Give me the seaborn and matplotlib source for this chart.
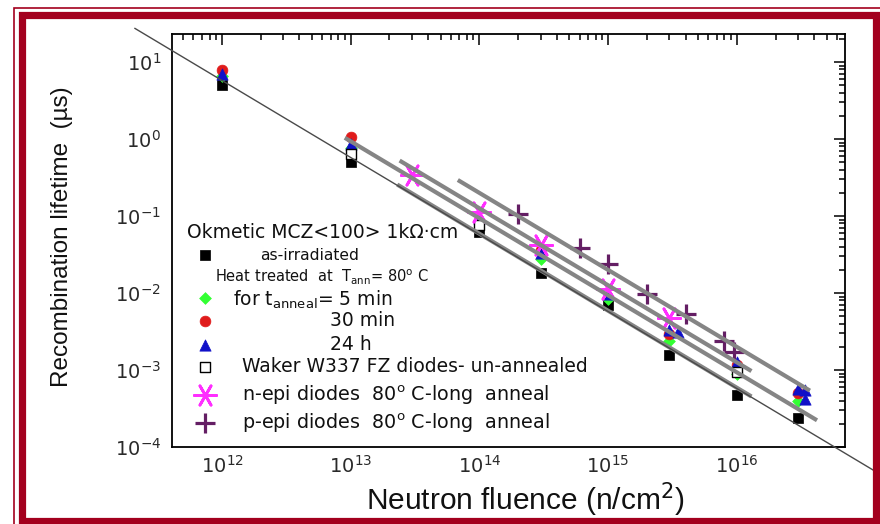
import numpy as np
import matplotlib
matplotlib.use("Agg")
import matplotlib.pyplot as plt
import seaborn as sns
from matplotlib.patches import Rectangle
from matplotlib.markers import MarkerStyle
from matplotlib.ticker import LogLocator, LogFormatterSciNotation, NullFormatter

# ---- data: neutron fluence (n/cm^2) and recombination lifetime (µs) ----
as_irr_fluence = [1e12, 1e13, 1e14, 3e14, 1e15, 3e15, 1e16, 3e16]
as_irr_tau = [5.0, 0.50, 0.062, 0.018, 0.0070, 0.00155, 4.7e-4, 2.35e-4]

min5_fluence = [1e12, 1e13, 3e14, 1e15, 3e15, 1e16, 3e16]
min5_tau = [6.5, 0.77, 0.028, 0.0084, 0.0024, 9.0e-4, 3.9e-4]

min30_fluence = [1e12, 1e13, 3e14, 3e15, 1e16, 3e16]
min30_tau = [7.8, 1.05, 0.036, 0.0029, 0.00117, 5.0e-4]

h24_fluence = [1e12, 1e13, 1e14, 3e14, 1e15, 3e15, 3.5e15, 1e16, 3e16, 3.4e16, 3.4e16]
h24_tau = [7.0, 0.86, 0.093, 0.033, 0.0098, 0.0033, 0.0031, 0.00128, 5.6e-4, 5.5e-4, 4.2e-4]

waker_fluence = [1e13, 1e14, 1e16]
waker_tau = [0.63, 0.076, 9.3e-4]

nepi_fluence = [3e13, 1e14, 3e14, 1e15, 3e15]
nepi_tau = [0.34, 0.112, 0.042, 0.0112, 0.0048]

pepi_fluence = [2e14, 6e14, 1e15, 2e15, 4e15, 8e15, 9.5e15]
pepi_tau = [0.107, 0.038, 0.0238, 0.0098, 0.0053, 0.0024, 0.0017]

# tau = 10**C / fluence fits (log10 C, fluence range)
fit_logc = [12.77, 12.97, 13.10, 13.30]
fit_lo = [2.3e13, 9.0e12, 2.4e13, 6.8e13]
fit_hi = [1.3e16, 4.2e16, 1.3e16, 3.7e16]

# reference 1/fluence line running across the whole frame
ref_logc = 12.76
ref_lo, ref_hi = 2.1e11, 1.2e17

x_ticks = [1e12, 1e13, 1e14, 1e15, 1e16]
y_ticks = [1e-4, 1e-3, 1e-2, 1e-1, 1e0, 1e1]

# ---- style ----
sns.set_style("white")
plt.rcParams["font.family"] = ["DejaVu Sans"]
plt.rcParams["mathtext.fontset"] = "dejavusans"

W, H = 880, 524
fig = plt.figure(figsize=(W / 100, H / 100), dpi=100)
fig.patch.set_facecolor("white")

L, R, T, B = 172, 845, 34, 447
ax = fig.add_axes([L / W, 1 - B / H, (R - L) / W, (B - T) / H])
ax.set_facecolor("white")
ax.set_xscale("log")
ax.set_yscale("log")
ax.set_xlim(4.09e11, 6.93e16)
ax.set_ylim(1e-4, 23.1)

# ---- markers ----
series = [
    (as_irr_fluence, as_irr_tau, dict(marker="s", s=55, color="black", edgecolor="black", linewidth=0.5)),
    (min5_fluence, min5_tau, dict(marker="D", s=36, color="#33FF33", edgecolor="#33FF33", linewidth=0.5)),
    (min30_fluence, min30_tau, dict(marker="o", s=60, color="#E01B1B", edgecolor="#E01B1B", linewidth=0.5)),
    (h24_fluence, h24_tau, dict(marker="^", s=66, color="#1010C8", edgecolor="#1010C8", linewidth=0.5)),
    (waker_fluence, waker_tau, dict(marker="s", s=44, color="white", edgecolor="black", linewidth=1.0)),
    (nepi_fluence, nepi_tau, dict(marker=MarkerStyle((6, 2, 90)), s=256, color="#FF2EFF", linewidth=2.0)),
    (pepi_fluence, pepi_tau, dict(marker="+", s=210, color="#641E64", linewidth=2.3)),
]
for xs, ys, kw in series:
    sns.scatterplot(x=xs, y=ys, ax=ax, zorder=3, legend=False, **kw)

# ---- fitted lines ----
for c, lo, hi in zip(fit_logc, fit_lo, fit_hi):
    xs = np.array([lo, hi])
    sns.lineplot(x=xs, y=10 ** c / xs, ax=ax, color="#858585", linewidth=3.0,
                 zorder=4, solid_capstyle="butt", estimator=None, sort=False)

xs = np.array([ref_lo, ref_hi])
ax.plot(xs, 10 ** ref_logc / xs, color="#4a4a4a", linewidth=1.0, zorder=5, clip_on=False)

# ---- axes, ticks ----
for sp in ax.spines.values():
    sp.set_color("black")
    sp.set_linewidth(1.3)
ax.xaxis.set_minor_locator(LogLocator(base=10, subs=np.arange(2, 10), numticks=20))
ax.yaxis.set_minor_locator(LogLocator(base=10, subs=np.arange(2, 10), numticks=20))
ax.set_xticks(x_ticks)
ax.set_yticks(y_ticks)
ax.xaxis.set_major_formatter(LogFormatterSciNotation())
ax.yaxis.set_major_formatter(LogFormatterSciNotation())
ax.xaxis.set_minor_formatter(NullFormatter())
ax.yaxis.set_minor_formatter(NullFormatter())
ax.tick_params(which="both", direction="in", top=True, right=True, color="black", width=1.1)
ax.tick_params(which="major", length=8, labelsize=14, labelcolor="#2a2a2a", pad=8)
ax.tick_params(axis="x", which="major", pad=6)
ax.tick_params(which="minor", length=4)

ax.set_xlabel("Neutron fluence (n/cm$^2$)", fontsize=21.5, family=["Liberation Sans", "DejaVu Sans"],
              color="#111111")
ax.xaxis.set_label_coords(0.5245, -0.128)
ax.xaxis.label.set_verticalalignment("center")
ax.set_ylabel("Recombination lifetime  (µs)", fontsize=17.5,
              family=["Liberation Sans", "DejaVu Sans"], color="#111111")
ax.yaxis.set_label_coords(-0.163, 0.51)
ax.yaxis.label.set_verticalalignment("center")

# ---- legend block ----
def px_x(px):
    return (px - L) / (R - L)

def px_y(py):
    return (B - py) / (B - T)

key_x = px_x(205)
txt = dict(transform=ax.transAxes, va="center", ha="left", color="#111111", zorder=6)
ax.text(px_x(187), px_y(232), "Okmetic MCZ<100> 1kΩ·cm", fontsize=13.5, **txt)
ax.text(px_x(260), px_y(255), "as-irradiated", fontsize=11.2, **txt)
ax.text(px_x(215), px_y(277), r"Heat treated  at  T$_{\rm ann}$= 80$^{\rm o}$ C", fontsize=10.5, **txt)
ax.text(px_x(233), px_y(300), r"for t$_{\rm anneal}$= 5 min", fontsize=13.5, **txt)
ax.text(px_x(330), px_y(321), "30 min", fontsize=13.5, **txt)
ax.text(px_x(330), px_y(345), "24 h", fontsize=13.5, **txt)
ax.text(px_x(242), px_y(367), "Waker W337 FZ diodes- un-annealed", fontsize=13.5, **txt)
ax.text(px_x(242), px_y(395), r"n-epi diodes  80$^{\rm o}$ C-long  anneal", fontsize=13.8, **txt)
ax.text(px_x(242), px_y(423), r"p-epi diodes  80$^{\rm o}$ C-long  anneal", fontsize=13.8, **txt)

key_rows = [255, 298, 321, 345, 367, 395, 423]
for row, (_, _, kw) in zip(key_rows, series):
    ax.scatter([key_x], [px_y(row)], transform=ax.transAxes, clip_on=False, zorder=6, **kw)

# ---- frame ----
fig.patches.append(Rectangle((13.5 / W, 1 - 531 / H), (886 - 13.5) / W, (531 - 7.5) / H,
                             transform=fig.transFigure, fill=False, edgecolor="#A3001E",
                             linewidth=1.2, zorder=10))
fig.patches.append(Rectangle((21.5 / W, 1 - 521 / H), (876 - 21.5) / W, (521 - 15) / H,
                             transform=fig.transFigure, fill=False, edgecolor="#A3001E",
                             linewidth=5.2, zorder=10))

fig.savefig("out.png", dpi=100, facecolor="white")
